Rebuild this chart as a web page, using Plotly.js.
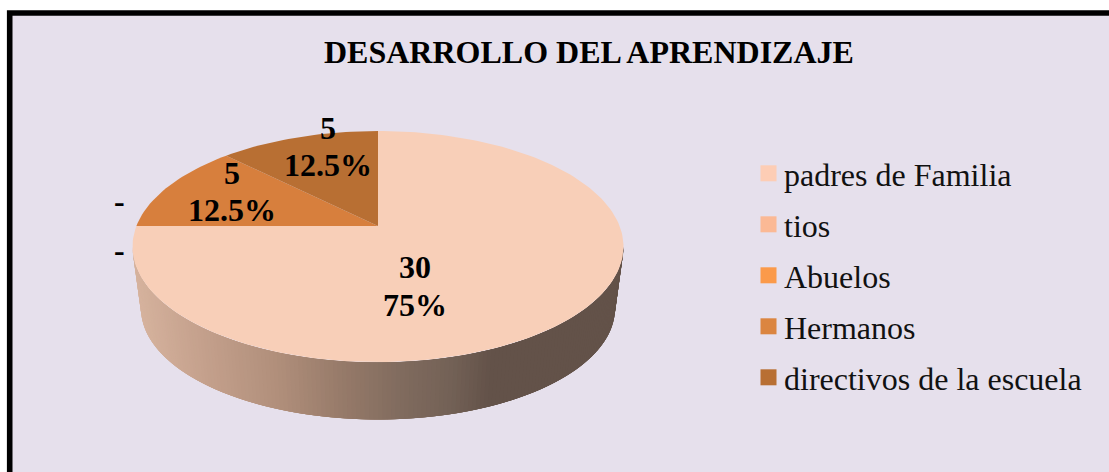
<!DOCTYPE html>
<html>
<head>
<meta charset="utf-8">
<script src="https://cdn.plot.ly/plotly-3.0.1.min.js"></script>
<style>html,body{margin:0;padding:0;background:#fff}#c{width:1109px;height:472px}</style>
</head>
<body>
<div id="c"></div>
<script>
// ----- data -----
const categories = ["padres de Familia", "tios", "Abuelos", "Hermanos", "directivos de la escuela"];
const values = [30, 0, 0, 5, 5];
const percentLabels = ["75%", "", "", "12.5%", "12.5%"];
const sliceColors = ["#f8cfb8", "#fbb995", "#fb9a4a", "#d77f3d", "#b86f33"];
const swatchColors = ["#fdcdb5", "#fbb995", "#fb9a4a", "#db8540", "#b86f33"];
const titleText = "DESARROLLO DEL APRENDIZAJE";
const bgColor = "#e6e0ec";

// ----- 3D pie geometry (perspective disc on pixel-scaled axes) -----
const cx = 378, cy = 226, rx = 241.6, h = 111.9, k = 0.1775;
function project(a) {                 // a: clockwise angle from 12 o'clock
  const u = Math.sin(a), v = Math.cos(a), d = 1 + k * v;
  return [cx + rx * u / d, cy - h * v / d];
}
const topEll = {x: 378, y: 247, a: 245.5, b: 115.5};
const botEll = {x: 378, y: 308.5, a: 237, b: 111};

// gradient of the rim, by horizontal position
const rimX = [132, 200, 270, 340, 400, 450, 490, 623];
const rimR = [214, 196, 178, 150, 128, 115, 99, 99];
const rimG = [179, 160, 144, 122, 107, 97, 82, 82];
const rimB = [158, 140, 124, 105, 94, 86, 73, 73];
function interp(xs, ys, x) {
  for (let i = 1; i < xs.length; i++) {
    if (x <= xs[i]) return ys[i-1] + (ys[i]-ys[i-1]) * (x-xs[i-1]) / (xs[i]-xs[i-1]);
  }
  return ys[ys.length-1];
}

const traces = [];
const steps = 170;
for (let i = 0; i < steps; i++) {
  const t0 = Math.PI * i / steps, t1 = Math.PI * Math.min(i + 4, steps) / steps;
  const xa = topEll.x - topEll.a * Math.cos(t0), ya = topEll.y + topEll.b * Math.sin(t0);
  const xb = topEll.x - topEll.a * Math.cos(t1), yb = topEll.y + topEll.b * Math.sin(t1);
  const xc = botEll.x - botEll.a * Math.cos(t1), yc = botEll.y + botEll.b * Math.sin(t1);
  const xd = botEll.x - botEll.a * Math.cos(t0), yd = botEll.y + botEll.b * Math.sin(t0);
  const xm = xa;
  const col = "rgb(" + Math.round(interp(rimX, rimR, xm)) + "," + Math.round(interp(rimX, rimG, xm)) + "," + Math.round(interp(rimX, rimB, xm)) + ")";
  traces.push({type: "scatter", mode: "lines", x: [xa, xb, xc, xd, xa], y: [ya, yb, yc, yd, ya],
    fill: "toself", fillcolor: col, line: {width: 0, color: col}, showlegend: false, hoverinfo: "skip"});
}

const total = values.reduce((s, v) => s + v, 0);
let acc = 0;
values.forEach((v, i) => {
  const a0 = 2 * Math.PI * acc / total;
  acc += v;
  const a1 = 2 * Math.PI * acc / total;
  if (v === 0) return;
  const xs = [cx], ys = [cy];
  const n = Math.max(8, Math.round(240 * v / total));
  for (let j = 0; j <= n; j++) {
    const p = project(a0 + (a1 - a0) * j / n);
    xs.push(p[0]); ys.push(p[1]);
  }
  xs.push(cx); ys.push(cy);
  traces.push({type: "scatter", mode: "lines", x: xs, y: ys, fill: "toself", fillcolor: sliceColors[i],
    line: {width: 0, color: sliceColors[i]}, showlegend: false, name: categories[i], hoverinfo: "skip"});
});

// legend entries
categories.forEach((c, i) => {
  traces.push({type: "scatter", mode: "markers", x: [null], y: [null], name: c, legendgroup: "g" + i,
    marker: {symbol: "square", size: 17, color: swatchColors[i], line: {width: 0}}, hoverinfo: "skip"});
});

const labelFont = {family: "Liberation Serif", size: 32, color: "#000"};
function ann(text, x, y) {
  return {text: "<b>" + text + "</b>", x, y, xref: "x", yref: "y", showarrow: false, font: labelFont, align: "center",
    xanchor: "center", yanchor: "middle"};
}

const layout = {
  width: 1109, height: 472,
  margin: {l: 0, r: 0, t: 0, b: 0},
  paper_bgcolor: "#ffffff", plot_bgcolor: "rgba(0,0,0,0)",
  xaxis: {range: [0, 1109], visible: false, fixedrange: true},
  yaxis: {range: [472, 0], visible: false, fixedrange: true},
  hovermode: false,
  showlegend: true,
  legend: {x: 744 / 1109, y: 1 - 146 / 472, xanchor: "left", yanchor: "top", bgcolor: "rgba(0,0,0,0)",
    font: {family: "Liberation Serif", size: 32, color: "#111"}, tracegroupgap: 6.4, itemclick: false, itemdoubleclick: false},
  shapes: [{type: "rect", xref: "x", yref: "y", x0: 9.7, y0: 13, x1: 1130, y1: 490, fillcolor: bgColor,
    line: {color: "#000", width: 5.6}, layer: "below"}],
  annotations: [
    {text: "<b>" + titleText + "</b>", x: 589, y: 52, xref: "x", yref: "y", showarrow: false,
      font: {family: "Liberation Serif", size: 32, color: "#000"}, xanchor: "center", yanchor: "middle"},
    ann(String(values[0]), 415, 267),
    ann(percentLabels[0], 415, 305),
    ann("-", 119, 201),
    ann("-", 119, 250),
    ann(String(values[3]), 232, 173),
    ann(percentLabels[3], 232, 210),
    ann(String(values[4]), 328, 128),
    ann(percentLabels[4], 328, 165)
  ]
};

Plotly.newPlot("c", traces, layout, {displayModeBar: false}).then(() => {
  document.querySelectorAll(".legend .legendsymbols").forEach(g => g.setAttribute("transform", "translate(4.5,0)"));
});
</script>
</body>
</html>
